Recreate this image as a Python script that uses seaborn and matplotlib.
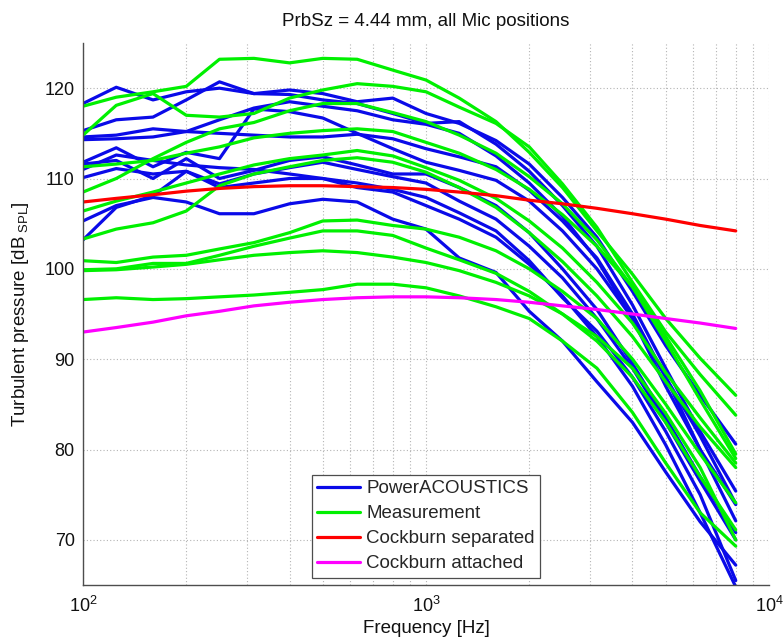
import numpy as np
import pandas as pd
import matplotlib
matplotlib.use("Agg")
import matplotlib.pyplot as plt
import seaborn as sns
from matplotlib.lines import Line2D
from matplotlib.ticker import LogLocator, NullFormatter, FixedLocator

# One-third octave band centre frequencies [Hz]
freqs = [100, 125, 160, 200, 250, 315, 400, 500, 630, 800,
         1000, 1250, 1600, 2000, 2500, 3150, 4000, 5000, 6300, 8000]

# Simulated spectra (PowerACOUSTICS), one list per microphone position [dB SPL]
pa_1 = [118.3, 120.1, 118.7, 119.6, 120.0, 119.4, 119.8, 119.4, 118.5, 118.9, 117.2, 116.1, 114.2, 111.6, 107.9, 103.5, 97.5, 91.5, 86.0, 80.6]
pa_2 = [115.3, 116.5, 116.8, 118.7, 120.7, 119.4, 119.3, 118.7, 118.3, 117.2, 116.1, 116.3, 113.8, 110.8, 107.0, 102.5, 96.0, 89.0, 82.0, 75.4]
pa_3 = [114.3, 114.4, 114.6, 115.2, 115.0, 114.8, 114.6, 114.6, 114.9, 114.4, 113.3, 112.4, 111.3, 108.7, 105.3, 101.2, 95.0, 88.0, 80.0, 72.1]
pa_4 = [111.8, 113.4, 111.3, 112.9, 112.2, 117.7, 117.4, 116.7, 115.0, 113.3, 111.8, 110.9, 109.8, 107.5, 104.2, 100.0, 94.5, 88.0, 81.5, 74.0]
pa_5 = [111.6, 112.0, 110.0, 112.2, 110.0, 110.9, 112.0, 112.4, 111.5, 110.5, 110.5, 109.0, 107.0, 104.0, 100.0, 95.5, 89.5, 83.5, 77.0, 70.8]
pa_6 = [110.1, 111.1, 110.5, 110.8, 109.4, 110.5, 111.2, 111.8, 111.0, 110.2, 109.5, 107.5, 105.5, 102.5, 99.0, 94.5, 89.0, 83.0, 76.5, 70.0]
pa_7 = [105.3, 107.0, 107.9, 107.4, 106.1, 106.1, 107.2, 107.7, 107.4, 105.5, 104.4, 101.2, 99.6, 95.3, 92.0, 87.5, 83.0, 77.5, 72.0, 67.2]
pa_8 = [103.2, 106.8, 108.1, 110.8, 109.0, 109.5, 110.0, 110.0, 109.5, 108.8, 107.9, 106.2, 104.2, 100.9, 96.8, 93.1, 88.0, 82.0, 75.0, 65.5]
pa_9 = [111.0, 112.6, 112.0, 111.5, 111.2, 111.0, 110.5, 110.0, 109.0, 108.5, 107.0, 105.5, 103.5, 100.5, 97.0, 92.5, 87.0, 80.5, 73.0, 64.8]
pa_10 = [114.6, 114.8, 115.5, 115.2, 116.5, 117.8, 118.5, 118.0, 117.5, 116.5, 116.0, 115.0, 112.5, 109.5, 105.8, 101.0, 94.5, 87.0, 80.0, 73.9]

# Measured spectra, one list per microphone position [dB SPL]
meas_1 = [118.0, 119.0, 119.6, 120.2, 123.2, 123.3, 122.8, 123.3, 123.2, 122.0, 120.9, 118.9, 116.3, 112.9, 109.0, 104.2, 99.4, 94.5, 90.1, 86.0]
meas_2 = [114.8, 118.1, 119.4, 117.0, 116.8, 117.2, 118.9, 119.8, 120.5, 120.2, 119.6, 117.9, 116.1, 113.5, 109.4, 104.6, 98.5, 93.0, 88.3, 83.8]
meas_3 = [108.5, 110.0, 112.2, 114.0, 115.5, 116.2, 117.5, 118.3, 118.3, 117.3, 116.3, 114.8, 112.8, 110.2, 107.2, 103.2, 98.0, 92.0, 85.5, 79.0]
meas_4 = [111.3, 111.6, 112.0, 112.8, 113.5, 114.5, 115.0, 115.3, 115.5, 115.2, 114.0, 112.8, 111.0, 108.8, 106.0, 102.5, 98.0, 92.5, 86.5, 79.5]
meas_5 = [106.4, 107.5, 108.5, 109.5, 110.5, 111.5, 112.2, 112.6, 113.1, 112.5, 111.2, 109.8, 107.8, 105.3, 102.3, 98.5, 94.0, 88.5, 83.5, 78.5]
meas_6 = [103.3, 104.4, 105.1, 106.4, 109.2, 110.5, 111.3, 112.0, 112.3, 111.8, 110.7, 109.0, 106.8, 104.0, 100.8, 97.0, 92.5, 87.5, 82.5, 78.0]
meas_7 = [100.9, 100.7, 101.3, 101.5, 102.2, 102.9, 104.0, 105.3, 105.4, 104.8, 104.4, 103.5, 102.0, 100.0, 97.5, 94.5, 90.0, 85.0, 79.5, 74.1]
meas_8 = [99.9, 100.0, 100.6, 100.6, 101.5, 102.5, 103.4, 104.2, 104.2, 103.7, 102.3, 101.0, 99.5, 97.5, 95.0, 92.0, 88.0, 83.0, 77.0, 71.1]
meas_9 = [99.8, 99.9, 100.2, 100.5, 101.0, 101.5, 101.8, 102.0, 101.8, 101.3, 100.7, 99.8, 98.5, 97.0, 95.0, 92.5, 89.0, 84.0, 78.0, 70.0]
meas_10 = [96.6, 96.8, 96.6, 96.7, 96.9, 97.1, 97.4, 97.7, 98.3, 98.3, 97.9, 97.0, 95.8, 94.5, 92.0, 89.0, 84.1, 78.5, 73.0, 69.3]

# Cockburn empirical models
cockburn_separated = [107.4, 107.8, 108.2, 108.6, 108.9, 109.1, 109.2, 109.2, 109.1, 109.0, 108.8, 108.5, 108.1, 107.6, 107.2, 106.7, 106.1, 105.5, 104.8, 104.2]
cockburn_attached = [93.0, 93.5, 94.1, 94.8, 95.3, 95.9, 96.3, 96.6, 96.8, 96.9, 96.9, 96.8, 96.6, 96.3, 95.9, 95.5, 95.0, 94.5, 94.0, 93.4]

series_labels = ["PowerACOUSTICS", "Measurement", "Cockburn separated", "Cockburn attached"]
series_colors = ["#0a0ae8", "#00f000", "#ff0000", "#ff00ff"]

groups = {
    "PowerACOUSTICS": [pa_1, pa_2, pa_3, pa_4, pa_5, pa_6, pa_7, pa_8, pa_9, pa_10],
    "Measurement": [meas_1, meas_2, meas_3, meas_4, meas_5, meas_6, meas_7, meas_8, meas_9, meas_10],
    "Cockburn separated": [cockburn_separated],
    "Cockburn attached": [cockburn_attached],
}

rows = []
for name, curves in groups.items():
    for k, vals in enumerate(curves):
        for f, v in zip(freqs, vals):
            rows.append({"freq": f, "level": v, "series": name, "run": f"{name}-{k}"})
df = pd.DataFrame(rows)

sns.set_theme(style="white")
plt.rcParams["font.family"] = ["Liberation Sans", "DejaVu Sans"]
plt.rcParams["mathtext.fontset"] = "custom"
plt.rcParams["mathtext.rm"] = "Liberation Sans"
plt.rcParams["mathtext.it"] = "Liberation Sans:italic"
plt.rcParams["mathtext.bf"] = "Liberation Sans:bold"

fig = plt.figure(figsize=(7.83, 6.39), dpi=100)
ax = fig.add_axes([0.106, 0.0845, 0.8761, 0.8482])
ax.set_xscale("log")

lw = 2.3
sns.lineplot(data=df, x="freq", y="level", hue="series", units="run",
             estimator=None, hue_order=series_labels,
             palette=dict(zip(series_labels, series_colors)),
             linewidth=lw, sort=False, legend=False, ax=ax)

ax.set_xlim(100, 10000)
ax.set_ylim(65, 125)
ax.yaxis.set_major_locator(FixedLocator([70, 80, 90, 100, 110, 120]))
ax.xaxis.set_major_locator(LogLocator(base=10, numticks=10))
ax.xaxis.set_minor_locator(LogLocator(base=10, subs=np.arange(2, 10), numticks=20))
ax.xaxis.set_minor_formatter(NullFormatter())

grid_kw = dict(linestyle=(0, (1, 2)), color="#b4b4b4", linewidth=0.8)
ax.grid(True, axis="x", which="both", **grid_kw)
ax.grid(True, axis="y", which="major", **grid_kw)

for side in ["top", "right"]:
    ax.spines[side].set_visible(False)
for side in ["left", "bottom"]:
    ax.spines[side].set_color("#4d4d4d")
    ax.spines[side].set_linewidth(1.0)

fs = 13.5
ax.tick_params(axis="both", which="major", direction="in", length=5, width=0.8,
               color="#4d4d4d", labelsize=13, labelcolor="#111111", pad=8)
ax.tick_params(axis="x", which="minor", direction="in", length=3, width=0.8, color="#4d4d4d")
ax.tick_params(axis="y", which="major", pad=6)

ax.set_xlabel("Frequency [Hz]", fontsize=fs, color="#111111", labelpad=3)
ax.set_ylabel(r"Turbulent pressure [dB$_{\ \mathregular{SPL}}$]", fontsize=fs,
              color="#111111", labelpad=10)
ax.set_title("PrbSz = 4.44 mm, all Mic positions", fontsize=fs, color="#111111", pad=12)

handles = [Line2D([0], [0], color=c, lw=lw) for c in series_colors]
leg = ax.legend(handles, series_labels, loc="lower center", bbox_to_anchor=(0.5, 0.013),
                borderaxespad=0, fontsize=fs, frameon=True, fancybox=False, framealpha=1,
                edgecolor="#4d4d4d", handlelength=2.3, handletextpad=0.3,
                borderpad=0.3, labelspacing=0.42)
leg.get_frame().set_linewidth(0.9)

fig.savefig("out.png", dpi=100)
